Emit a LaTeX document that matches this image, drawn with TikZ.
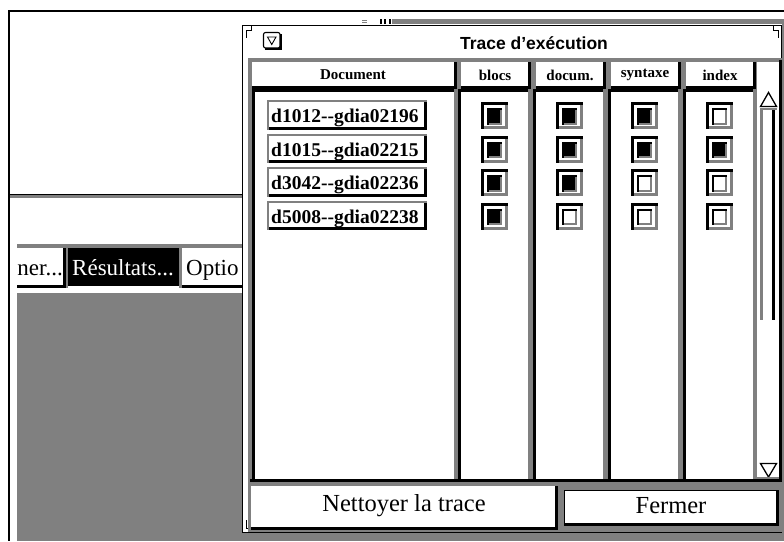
\documentclass[tikz,border=0pt]{standalone}
\usepackage{fontspec}
\setmainfont{Liberation Serif}
\newfontfamily\titlesans{Liberation Sans}
\definecolor{dither}{gray}{0.5}

% white face with a black shadow on the right and bottom
\newcommand\raisedface[5]{% x0 y0 x1 y1 shadow
  \fill[white] (#1,#2) rectangle (#3,#4);
  \fill[black] (#3-#5,#2) rectangle (#3,#4);
  \fill[black] (#1,#4-#5) rectangle (#3,#4);
}
% white face with a black edge on the top and left
\newcommand\sunkenface[5]{% x0 y0 x1 y1 edge
  \fill[white] (#1,#2) rectangle (#3,#4);
  \fill[black] (#1,#2) rectangle (#3,#2+#5);
  \fill[black] (#1,#2) rectangle (#1+#5,#4);
}
% check box: centre x, centre y, 1 = ticked
\newcommand\tickbox[3]{%
  \begin{scope}[shift={(#1,#2)}]
    \fill[white] (-13.5,-13.5) rectangle (13.5,13.5);
    \fill[black] (-13.5,-13.5) rectangle (13.5,-10.5);
    \fill[black] (-13.5,-13.5) rectangle (-10.5,13.5);
    \fill[dither] (10.5,-10.5) rectangle (13.5,13.5);
    \fill[dither] (-10.5,10.5) rectangle (13.5,13.5);
    \fill[black] (-7.5,-7.5) rectangle (7.5,9);
    \ifnum#3=0
      \fill[white] (-5.5,-5.5) rectangle (7.5,9);
    \fi
    \fill[dither] (5.5,-5.5) rectangle (7.5,9);
    \fill[dither] (-5.5,7) rectangle (7.5,9);
  \end{scope}
}

\begin{document}
\begin{tikzpicture}[x=1pt,y=-1pt,
  hdr/.style={font=\bfseries\fontsize{15}{15}\selectfont, inner sep=0pt},
  entry/.style={font=\bfseries\fontsize{19.5}{19.5}\selectfont, inner sep=0pt, anchor=base west},
  tab/.style={font=\fontsize{23}{23}\selectfont, inner sep=0pt},
  btn/.style={font=\fontsize{24.5}{24.5}\selectfont, inner sep=0pt},
  ttl/.style={font=\titlesans\bfseries\fontsize{17.5}{17.5}\selectfont, inner sep=0pt}]
\useasboundingbox (0,0) rectangle (784,541);
\fill[white] (0,0) rectangle (784,541);

% ---------- main application window (behind the dialog) ----------
\fill[black] (7.5,9.8) rectangle (784,12);
\fill[black] (7.5,9.8) rectangle (10,541);
% divider of the work area
\fill[dither] (10,194) rectangle (242,197.5);
\fill[black] (10,194) rectangle (242,195.3);
% tab strip
\fill[dither] (17,244) rectangle (242,247.5);
\begin{scope}
  \clip (17,240) rectangle (242,295);
  \raisedface{17}{247.5}{66}{288}{3}
  \fill[dither] (66,247.5) rectangle (68,288);
  \fill[black] (68,247.5) rectangle (179,286);
  \fill[dither] (179,247.5) rectangle (182,288);
  \raisedface{182}{247.5}{250}{288}{3}
  \node[tab, anchor=base east] (tabner) at (63,275) {ner...};
  \node[tab, anchor=base west, text=white] (tabres) at (72,275) {Résultats...};
  \node[tab, anchor=base west] (tabopt) at (186,275) {Optio};
\end{scope}
% shaded work area
\fill[dither] (17,293) rectangle (242,541);
\fill[dither] (242,533) rectangle (784,541);
\fill[dither] (782,19) rectangle (784,541);
% remains of the title bar
\fill[dither] (392,19) rectangle (784,24.3);
\fill[black] (380,19) rectangle (382,24.3);
\fill[black] (384,19) rectangle (386,24.3);
\fill[black] (388.5,19) rectangle (390.5,24.3);
\fill[dither] (362,19.5) rectangle (367,20.7);
\fill[dither] (362,21.8) rectangle (367,23);

% ---------- dialog window ----------
\fill[white] (242,25) rectangle (782,533);
\draw[line width=1.2] (242.6,25.6) rectangle (781.4,532.4);
% resize corners
\draw[line width=1] (251,25.6) -- (251,30) -- (246,30) -- (246,38);
\draw[line width=1] (773,25.6) -- (773,30) -- (778,30) -- (778,38);
\draw[line width=1] (246,520) -- (246,528) -- (251,528) -- (251,532.4);
\draw[line width=1] (778,520) -- (778,528) -- (773,528) -- (773,532.4);

% title bar
\draw[line width=1.1, rounded corners=2] (263.5,32.5) rectangle (280,48);
\draw[line width=1.6] (281.2,34) -- (281.2,49.2) -- (265,49.2);
\draw[line width=0.9] (267.5,37) -- (276,37) -- (271.75,44.5) -- cycle;
\node[ttl] (title) at (534,43) {Trace d’exécution};

% pane background
\fill[dither] (247.5,58) rectangle (781.5,532);
\fill[black] (779,60) rectangle (781.5,482);

% column headers
\raisedface{252}{61.5}{457}{89}{3}
\raisedface{461}{61.5}{531}{89}{3}
\raisedface{536}{61.5}{606}{89}{3}
\raisedface{611}{61.5}{681}{89}{3}
\raisedface{686}{61.5}{756}{89}{3}
\node[hdr] (hdoc) at (353,75) {Document};
\node[hdr] (hblocs) at (495,75) {blocs};
\node[hdr] (hdocum) at (570,75) {docum.};
\node[hdr] (hsyn) at (645,75) {syntaxe};
\node[hdr] (hidx) at (720,75) {index};

% column bodies
\sunkenface{252}{89}{454}{479}{2.5}
\sunkenface{458}{89}{528}{479}{2.5}
\sunkenface{533}{89}{603}{479}{2.5}
\sunkenface{608}{89}{678}{479}{2.5}
\sunkenface{683}{89}{753}{479}{2.5}
% scroll bar
\fill[white] (757,61.5) rectangle (779,477);
\draw[line width=1.3, line join=miter] (760.5,106.5) -- (768.5,92.5) -- (776.5,106.5) -- cycle;
\fill[dither] (760,107.5) rectangle (777,110);
\fill[dither] (760,110) rectangle (762.5,320);
\fill[black] (772,110) rectangle (775,320);
\draw[line width=1.3, line join=miter] (760.5,463.5) -- (776.5,463.5) -- (768.5,477) -- cycle;
\fill[dither] (753,477) rectangle (779,479);
% bottom edge of the list
\fill[black] (250,479) rectangle (781.5,482);

% document names
\foreach \r/\yy/\txt in {1/100/{d1012-{}-gdia02196},2/133.5/{d1015-{}-gdia02215},3/167/{d3042-{}-gdia02236},4/200.5/{d5008-{}-gdia02238}}{
  \raisedface{267}{\yy}{427}{\yy+29.5}{3}
  \fill[dither] (267,\yy) rectangle (427,\yy+2);
  \fill[dither] (267,\yy) rectangle (269,\yy+29.5);
  \node[entry] (doc\r) at (271,\yy+22.5) {\txt};
}

% check boxes: blocs, docum., syntaxe, index
\tickbox{494.5}{115.5}{1} \tickbox{569}{115.5}{1} \tickbox{644}{115.5}{1} \tickbox{719}{115.5}{0}
\tickbox{494.5}{149}{1}   \tickbox{569}{149}{1}   \tickbox{644}{149}{1}   \tickbox{719}{149}{1}
\tickbox{494.5}{182.5}{1} \tickbox{569}{182.5}{1} \tickbox{644}{182.5}{0} \tickbox{719}{182.5}{0}
\tickbox{494.5}{216}{1}   \tickbox{569}{216}{0}   \tickbox{644}{216}{0}   \tickbox{719}{216}{0}

% buttons
\raisedface{251}{486}{558}{530}{3}
\node[btn] (clear) at (404,506) {Nettoyer la trace};
\fill[white] (564,490) rectangle (778,525);
\draw[line width=1.2] (564.6,490.6) rectangle (777.4,524.4);
\fill[black] (775.5,490) rectangle (778.5,525.5);
\fill[black] (564,522.5) rectangle (778.5,525.5);
\node[btn] (close) at (671,506) {Fermer};
\end{tikzpicture}
\end{document}
